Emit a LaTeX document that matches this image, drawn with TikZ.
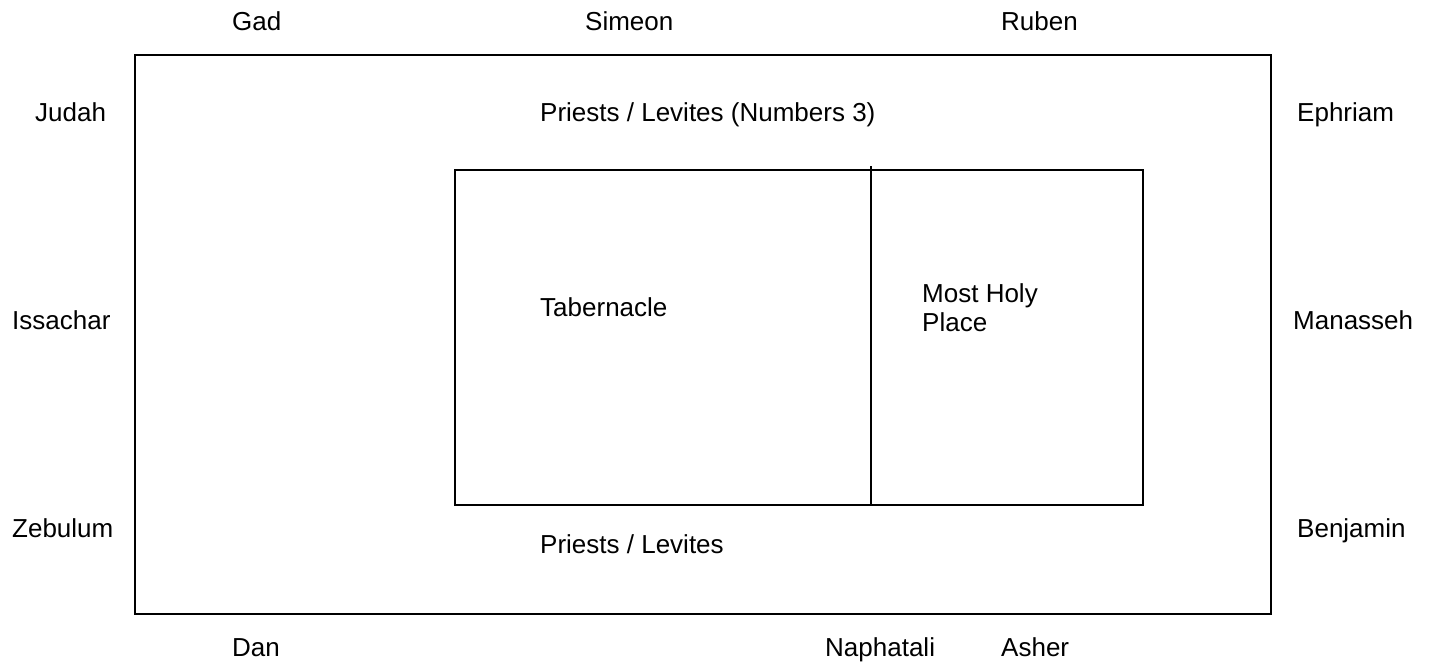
\documentclass[tikz,border=0pt]{standalone}
\usepackage{fontspec}
\setmainfont{Liberation Sans}
\begin{document}
\begin{tikzpicture}[x=1pt,y=-1pt,
  lbl/.style={anchor=base west,inner sep=0pt,font=\fontsize{26}{29}\selectfont},
  frame/.style={draw=black,line width=2pt}]
\useasboundingbox (0,0) rectangle (1436,662);
\draw[frame] (135,55) rectangle (1271,614);
\draw[frame] (455,170) rectangle (1143,505);
\coordinate (dtop) at (871,166);
\coordinate (dbot) at (871,505);
\draw[frame] (dtop) -- (dbot);
% top row
\node[lbl] (gad) at (232,30) {Gad};
\node[lbl] (simeon) at (585,30) {Simeon};
\node[lbl] (ruben) at (1001,30) {Ruben};
% row 2
\node[lbl] (judah) at (35,121) {Judah};
\node[lbl] (pl3) at (540,121) {Priests / Levites (Numbers 3)};
\node[lbl] (ephriam) at (1297,121) {Ephriam};
% middle
\node[lbl] (issachar) at (12,329) {Issachar};
\node[lbl] (tab) at (540,316) {Tabernacle};
\node[lbl,align=left,anchor=north west] (mhp) at (922,283) {Most Holy\\Place};
\node[lbl] (manasseh) at (1293,329) {Manasseh};
% row 4
\node[lbl] (zebulum) at (12,537) {Zebulum};
\node[lbl] (pl) at (540,553) {Priests / Levites};
\node[lbl] (benjamin) at (1297,537) {Benjamin};
% bottom row
\node[lbl] (dan) at (232,656) {Dan};
\node[lbl] (naph) at (825,656) {Naphatali};
\node[lbl] (asher) at (1001,656) {Asher};
\end{tikzpicture}
\end{document}
